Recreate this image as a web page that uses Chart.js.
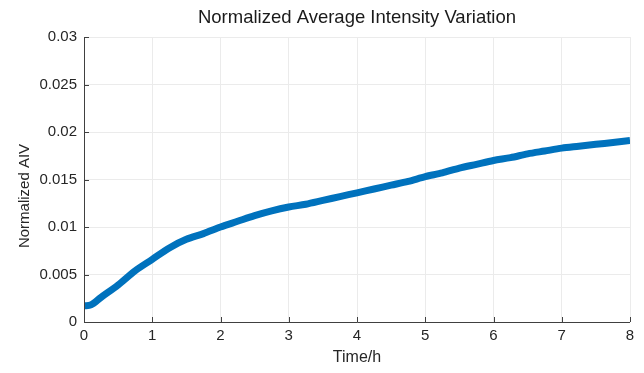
<!DOCTYPE html>
<html>
<head>
<meta charset="utf-8">
<script src="https://cdn.jsdelivr.net/npm/chart.js@4.4.1/dist/chart.umd.min.js"></script>
<style>
    html, body { margin: 0; padding: 0; background: #fff; }
    #wrap { width: 644px; height: 373px; }
</style>
</head>
<body>
<div id="wrap"><canvas id="grafico"></canvas></div>
<script>
// valores (tempo em horas, AIV normalizado)
const tempos = [0, 0.1, 0.25, 0.5, 0.75, 1, 1.25, 1.5, 1.75, 2, 2.25, 2.5, 2.75, 3, 3.25, 3.5, 3.75,
    4, 4.25, 4.5, 4.75, 5, 5.25, 5.5, 5.75, 6, 6.25, 6.5, 6.75, 7, 7.25, 7.5, 7.75, 8];
const aiv = [0.0017, 0.0018, 0.0026, 0.0039, 0.0054, 0.0066, 0.0078, 0.0087, 0.0093, 0.0100, 0.0106,
    0.0112, 0.0117, 0.0121, 0.0124, 0.0128, 0.0132, 0.0136, 0.0140, 0.0144, 0.0148, 0.0153, 0.0157,
    0.0162, 0.0166, 0.0170, 0.0173, 0.0177, 0.0180, 0.0183, 0.0185, 0.0187, 0.0189, 0.0191];
const xTicks = ['0', '1', '2', '3', '4', '5', '6', '7', '8'];
const yTicks = ['0', '0.005', '0.01', '0.015', '0.02', '0.025', '0.03'];
const titulo = 'Normalized Average Intensity Variation';
const tituloY = 'Normalized AIV';

const fonte = "'Liberation Sans', Arial, Helvetica, sans-serif";
const corEixo = '#404040';

// ticks para dentro (estilo matlab) + títulos centrados na área do gráfico
const estiloMatlab = {
    id: 'estiloMatlab',
    afterDraw(chart) {
        const { ctx, chartArea, scales } = chart;
        ctx.save();
        ctx.strokeStyle = corEixo;
        ctx.lineWidth = 1;
        ctx.beginPath();
        ctx.moveTo(chartArea.left + 0.5, chartArea.top);
        ctx.lineTo(chartArea.left + 0.5, chartArea.bottom + 0.5);
        ctx.lineTo(chartArea.right, chartArea.bottom + 0.5);
        xTicks.forEach(t => {
            const px = Math.round(scales.x.getPixelForValue(parseFloat(t))) + 0.5;
            ctx.moveTo(px, chartArea.bottom);
            ctx.lineTo(px, chartArea.bottom - 5);
        });
        yTicks.forEach(t => {
            const py = Math.round(scales.y.getPixelForValue(parseFloat(t))) + 0.5;
            ctx.moveTo(chartArea.left, py);
            ctx.lineTo(chartArea.left + 5, py);
        });
        ctx.stroke();

        ctx.fillStyle = '#1a1a1a';
        ctx.textAlign = 'center';
        ctx.textBaseline = 'middle';
        ctx.font = '18.5px ' + fonte;
        ctx.fillText(titulo, (chartArea.left + chartArea.right) / 2, 18);

        ctx.fillStyle = '#262626';
        ctx.font = '15px ' + fonte;
        ctx.translate(25, 196);
        ctx.rotate(-Math.PI / 2);
        ctx.fillText(tituloY, 0, 0);
        ctx.restore();
    }
};

new Chart(document.getElementById('grafico').getContext('2d'), {
    type: 'line',
    data: {
        datasets: [{
            data: tempos.map((t, i) => ({ x: t, y: aiv[i] })),
            borderColor: '#0072BD',
            borderWidth: 7,
            pointRadius: 0,
            tension: 0.3,
            fill: false
        }]
    },
    options: {
        responsive: true,
        maintainAspectRatio: false,
        animation: false,
        layout: { padding: { top: 37, right: 14, left: 0, bottom: 0 } },
        plugins: {
            legend: { display: false },
            tooltip: { enabled: false },
            title: { display: false }
        },
        scales: {
            x: {
                type: 'linear',
                min: 0,
                max: 8,
                afterFit: s => { s.height = 51; },
                ticks: {
                    stepSize: 1,
                    padding: 5,
                    color: '#262626',
                    font: { family: fonte, size: 15 },
                    maxRotation: 0,
                    callback: (v) => xTicks[Math.round(v)]
                },
                grid: { color: '#ebebeb', drawTicks: false },
                border: { display: false },
                title: {
                    display: true,
                    text: 'Time/h',
                    color: '#262626',
                    font: { family: fonte, size: 16 },
                    padding: { top: 0, bottom: 6 }
                }
            },
            y: {
                min: 0,
                max: 0.03,
                afterFit: s => { s.width = 84; },
                ticks: {
                    stepSize: 0.005,
                    padding: 7,
                    color: '#262626',
                    font: { family: fonte, size: 15 },
                    callback: (v) => yTicks[Math.round(v / 0.005)]
                },
                grid: { color: '#ebebeb', drawTicks: false },
                border: { display: false }
            }
        }
    },
    plugins: [estiloMatlab]
});
</script>
</body>
</html>
